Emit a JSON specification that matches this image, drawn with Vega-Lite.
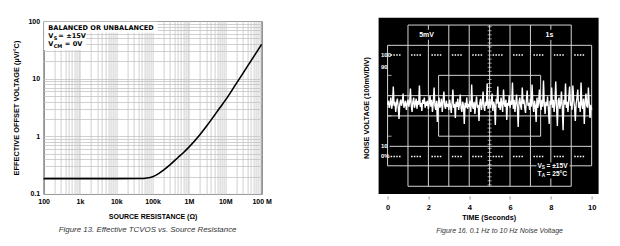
{
  "$schema": "https://vega.github.io/schema/vega-lite/v6.json",
  "background": "white",
  "padding": {"left": 11.6, "top": 16, "right": 0, "bottom": 0},
  "spacing": 90,
  "config": {"font": "Liberation Sans", "view": {"stroke": null}},
  "hconcat": [
    {
      "width": 218,
      "height": 173,
      "view": {"stroke": "#000", "strokeWidth": 1},
      "title": {"text": "Figure 13. Effective TCVOS vs. Source Resistance", "orient": "bottom", "anchor": "middle", "fontSize": 7.9, "fontStyle": "italic", "fontWeight": "normal", "color": "#333", "offset": 6, "dx": -5},
      "layer": [
        {
          "data": {"values": [
            {"r": 100, "e": 0.185}, {"r": 100000000, "e": 39.4}
          ]},
          "mark": {"type": "line", "color": "#000", "strokeWidth": 0},
          "encoding": {
            "x": {"field": "r", "type": "quantitative", "scale": {"type": "log", "domain": [100, 100000000], "nice": false},
              "axis": {
                "values": [100,200,300,400,500,600,700,800,900,1000,2000,3000,4000,5000,6000,7000,8000,9000,10000,20000,30000,40000,50000,60000,70000,80000,90000,100000,200000,300000,400000,500000,600000,700000,800000,900000,1000000,2000000,3000000,4000000,5000000,6000000,7000000,8000000,9000000,10000000,20000000,30000000,40000000,50000000,60000000,70000000,80000000,90000000,100000000],
                "labelExpr": "datum.value == 100 ? '100' : datum.value == 1000 ? '1k' : datum.value == 10000 ? '10k' : datum.value == 100000 ? '100k' : datum.value == 1000000 ? '1M' : datum.value == 10000000 ? '10M' : datum.value == 100000000 ? '100 M' : ''",
                "labelOverlap": false, "labelFlush": false, "ticks": false, "domain": false,
                "grid": true, "gridColor": "#c4c4c4", "gridWidth": 0.8,
                "labelFontSize": 7, "labelFontWeight": "bold", "labelColor": "#000", "labelPadding": 4,
                "title": "SOURCE RESISTANCE (Ω)", "titleFontSize": 7, "titleFontWeight": "bold", "titleColor": "#000", "titlePadding": 8
              }},
            "y": {"field": "e", "type": "quantitative", "scale": {"type": "log", "domain": [0.1, 100], "nice": false},
              "axis": {
                "values": [0.1,0.2,0.3,0.4,0.5,0.6,0.7,0.8,0.9,1,2,3,4,5,6,7,8,9,10,20,30,40,50,60,70,80,90,100],
                "labelExpr": "datum.value == 0.1 ? '0.1' : datum.value == 1 ? '1' : datum.value == 10 ? '10' : datum.value == 100 ? '100' : ''",
                "labelOverlap": false, "labelFlush": false, "ticks": false, "domain": false,
                "grid": true, "gridColor": "#c4c4c4", "gridWidth": 0.8,
                "labelFontSize": 7, "labelFontWeight": "bold", "labelColor": "#000", "labelPadding": 4,
                "title": "EFFECTIVE OFFSET VOLTAGE (µV/°C)", "titleFontSize": 7.4, "titleFontWeight": "bold", "titleColor": "#000", "titlePadding": 7.6
              }}
          }
        },
        {
          "data": {"values": [
            {"r": 103, "r2": 138700, "e": 62.7, "e2": 97},
            {"r": 103, "r2": 1490, "e": 31.5, "e2": 62.7}
          ]},
          "mark": {"type": "rect", "fill": "white"},
          "encoding": {
            "x": {"field": "r", "type": "quantitative", "scale": {"type": "log", "domain": [100, 100000000], "nice": false}},
            "x2": {"field": "r2"},
            "y": {"field": "e", "type": "quantitative", "scale": {"type": "log", "domain": [0.1, 100], "nice": false}},
            "y2": {"field": "e2"}
          }
        },
        {
          "data": {"values": [
            {"r": 100, "e": 0.185}, {"r": 1000, "e": 0.185}, {"r": 10000, "e": 0.185},
            {"r": 50000, "e": 0.186}, {"r": 70000, "e": 0.19}, {"r": 100000, "e": 0.2},
            {"r": 150000, "e": 0.228}, {"r": 200000, "e": 0.26}, {"r": 300000, "e": 0.32},
            {"r": 500000, "e": 0.43}, {"r": 700000, "e": 0.52}, {"r": 1000000, "e": 0.65},
            {"r": 2000000, "e": 1.07}, {"r": 3000000, "e": 1.48}, {"r": 5000000, "e": 2.3},
            {"r": 7000000, "e": 3.1}, {"r": 10000000, "e": 4.2}, {"r": 20000000, "e": 8.2},
            {"r": 30000000, "e": 12.1}, {"r": 50000000, "e": 20}, {"r": 100000000, "e": 39.4}
          ]},
          "mark": {"type": "line", "color": "#000", "strokeWidth": 1.6, "interpolate": "monotone"},
          "encoding": {
            "x": {"field": "r", "type": "quantitative", "scale": {"type": "log", "domain": [100, 100000000], "nice": false}},
            "y": {"field": "e", "type": "quantitative", "scale": {"type": "log", "domain": [0.1, 100], "nice": false}}
          }
        },
        {
          "data": {"values": [
            {"r": 135, "e": 74.7, "main": "BALANCED OR UNBALANCED", "sub": "", "rest": ""},
            {"r": 135, "e": 55, "main": "V", "sub": "S", "rest": "= ±15V"},
            {"r": 135, "e": 39.5, "main": "V", "sub": "CM", "rest": "= 0V"}
          ]},
          "encoding": {
            "x": {"field": "r", "type": "quantitative", "scale": {"type": "log", "domain": [100, 100000000], "nice": false}},
            "y": {"field": "e", "type": "quantitative", "scale": {"type": "log", "domain": [0.1, 100], "nice": false}}
          },
          "layer": [
            {
              "mark": {"type": "text", "align": "left", "baseline": "middle", "font": "DejaVu Sans", "fontSize": 6.6, "fontWeight": "bold", "color": "#000"},
              "encoding": {"text": {"field": "main"}}
            },
            {
              "mark": {"type": "text", "align": "left", "baseline": "middle", "font": "DejaVu Sans", "fontSize": 5, "fontWeight": "bold", "color": "#000", "dx": 5.3, "dy": 2},
              "encoding": {"text": {"field": "sub"}}
            },
            {
              "transform": [{"filter": "datum.sub == 'S'"}],
              "mark": {"type": "text", "align": "left", "baseline": "middle", "font": "DejaVu Sans", "fontSize": 6.6, "fontWeight": "bold", "color": "#000", "dx": 10},
              "encoding": {"text": {"field": "rest"}}
            },
            {
              "transform": [{"filter": "datum.sub == 'CM'"}],
              "mark": {"type": "text", "align": "left", "baseline": "middle", "font": "DejaVu Sans", "fontSize": 6.6, "fontWeight": "bold", "color": "#000", "dx": 16.5},
              "encoding": {"text": {"field": "rest"}}
            }
          ]
        }
      ]
    },
    {
      "width": 220,
      "height": 173,
      "title": {"text": "Figure 16. 0.1 Hz to 10 Hz Noise Voltage", "orient": "bottom", "anchor": "middle", "fontSize": 7, "fontStyle": "italic", "fontWeight": "normal", "color": "#333", "offset": 6, "dx": 11},
      "layer": [
        {
          "data": {"values": [{"x1": -0.44, "x2": 10.34, "y1": -1.85, "y2": 6.84}]},
          "mark": {"type": "rect", "fill": "#000"},
          "encoding": {
            "x": {"field": "x1", "type": "quantitative", "scale": {"domain": [-0.44, 10.34], "nice": false, "zero": false},
              "axis": {"values": [0, 2, 4, 6, 8, 10], "domain": false, "grid": false, "ticks": true, "tickColor": "#999", "tickSize": 3, "offset": 2,
                "labelFontSize": 7.5, "labelFontWeight": "bold", "labelColor": "#000", "labelPadding": 5, "labelFlush": false,
                "title": "TIME (Seconds)", "titleFontSize": 7.2, "titleFontWeight": "bold", "titleColor": "#000", "titlePadding": 2}},
            "x2": {"field": "x2"},
            "y": {"field": "y1", "type": "quantitative", "scale": {"domain": [-1.85, 6.68], "nice": false, "zero": false},
              "axis": {"labels": false, "ticks": false, "domain": false, "grid": false,
                "title": "NOISE VOLTAGE (100mV/DIV)", "titleFontSize": 7.2, "titleFontWeight": "bold", "titleColor": "#000", "titlePadding": 8}},
            "y2": {"field": "y2"}
          }
        },
        {
          "data": {"values": [
            {"x1": 1, "x2": 1, "y1": -1.47, "y2": 6.48}, {"x1": 2, "x2": 2, "y1": -1.47, "y2": 6.48},
            {"x1": 3, "x2": 3, "y1": -1.47, "y2": 6.48}, {"x1": 4, "x2": 4, "y1": -1.47, "y2": 6.48},
            {"x1": 5, "x2": 5, "y1": -1.47, "y2": 6.48}, {"x1": 6, "x2": 6, "y1": -1.47, "y2": 6.48},
            {"x1": 7, "x2": 7, "y1": -1.47, "y2": 6.48}, {"x1": 8, "x2": 8, "y1": -1.47, "y2": 6.48},
            {"x1": 9, "x2": 9, "y1": -1.47, "y2": 6.48},
            {"x1": 1, "x2": 9, "y1": 6.48, "y2": 6.48}, {"x1": 1, "x2": 9, "y1": -1.47, "y2": -1.47},
            {"x1": 0, "x2": 10, "y1": 5.48, "y2": 5.48}, {"x1": 0, "x2": 10, "y1": -0.46, "y2": -0.46},
            {"x1": 0, "x2": 0, "y1": -0.46, "y2": 5.48}, {"x1": 10, "x2": 10, "y1": -0.46, "y2": 5.48},
            {"x1": 2.5, "x2": 7.5, "y1": 4, "y2": 4}, {"x1": 2.5, "x2": 7.5, "y1": 1, "y2": 1},
            {"x1": 2.5, "x2": 2.5, "y1": 1, "y2": 4}, {"x1": 7.5, "x2": 7.5, "y1": 1, "y2": 4},
            {"x1": 0, "x2": 10, "y1": 3, "y2": 3}, {"x1": 0, "x2": 10, "y1": 2, "y2": 2},
            {"x1": 0.1, "x2": 10, "y1": 0.5, "y2": 0.5}
          ]},
          "mark": {"type": "rule", "color": "#d4d4d4", "strokeWidth": 1},
          "encoding": {
            "x": {"field": "x1", "type": "quantitative", "scale": {"domain": [-0.44, 10.34], "nice": false, "zero": false}},
            "x2": {"field": "x2"},
            "y": {"field": "y1", "type": "quantitative", "scale": {"domain": [-1.85, 6.68], "nice": false, "zero": false}},
            "y2": {"field": "y2"}
          }
        },
        {
          "data": {"values": [
            {"x1": 5, "y1": -1.4}, {"x1": 5, "y1": -1.2}, {"x1": 5, "y1": -1.0}, {"x1": 5, "y1": -0.8}, {"x1": 5, "y1": -0.6},
            {"x1": 5, "y1": -0.4}, {"x1": 5, "y1": -0.2}, {"x1": 5, "y1": 0}, {"x1": 5, "y1": 0.2}, {"x1": 5, "y1": 0.4},
            {"x1": 5, "y1": 0.6}, {"x1": 5, "y1": 0.8}, {"x1": 5, "y1": 1.0}, {"x1": 5, "y1": 1.2}, {"x1": 5, "y1": 1.4},
            {"x1": 5, "y1": 1.6}, {"x1": 5, "y1": 1.8}, {"x1": 5, "y1": 2.0}, {"x1": 5, "y1": 2.2}, {"x1": 5, "y1": 2.4},
            {"x1": 5, "y1": 2.6}, {"x1": 5, "y1": 2.8}, {"x1": 5, "y1": 3.0}, {"x1": 5, "y1": 3.2}, {"x1": 5, "y1": 3.4},
            {"x1": 5, "y1": 3.6}, {"x1": 5, "y1": 3.8}, {"x1": 5, "y1": 4.0}, {"x1": 5, "y1": 4.2}, {"x1": 5, "y1": 4.4},
            {"x1": 5, "y1": 4.6}, {"x1": 5, "y1": 4.8}, {"x1": 5, "y1": 5.0}, {"x1": 5, "y1": 5.2}, {"x1": 5, "y1": 5.4},
            {"x1": 5, "y1": 5.6}, {"x1": 5, "y1": 5.8}, {"x1": 5, "y1": 6.0}, {"x1": 5, "y1": 6.2}, {"x1": 5, "y1": 6.4},
            {"x1": 0.1, "y1": 4}, {"x1": 0.1, "y1": 3}, {"x1": 0.1, "y1": 2}, {"x1": 0.1, "y1": 1}
          ]},
          "mark": {"type": "tick", "orient": "horizontal", "size": 4, "thickness": 1, "color": "#e0e0e0"},
          "encoding": {
            "x": {"field": "x1", "type": "quantitative", "scale": {"domain": [-0.44, 10.34], "nice": false, "zero": false}},
            "y": {"field": "y1", "type": "quantitative", "scale": {"domain": [-1.85, 6.68], "nice": false, "zero": false}}
          }
        },
        {
          "data": {"values": [
            {"x1": 0.15, "x2": 10, "y1": 5, "y2": 5}, {"x1": 0.15, "x2": 10, "y1": 0, "y2": 0}
          ]},
          "mark": {"type": "rule", "color": "#ffffff", "strokeWidth": 1.4, "strokeDash": [1.5, 1.3, 1.5, 1.3, 1.5, 1.3, 1.5, 10.5]},
          "encoding": {
            "x": {"field": "x1", "type": "quantitative", "scale": {"domain": [-0.44, 10.34], "nice": false, "zero": false}},
            "x2": {"field": "x2"},
            "y": {"field": "y1", "type": "quantitative", "scale": {"domain": [-1.85, 6.68], "nice": false, "zero": false}},
            "y2": {"field": "y2"}
          }
        },
        {
          "data": {"values": [
            {"x1":0,"y1":2.55},{"x1":0.04,"y1":2.75},{"x1":0.08,"y1":2.4},{"x1":0.12,"y1":2.62},{"x1":0.16,"y1":2.9},{"x1":0.2,"y1":2.35},{"x1":0.24,"y1":2.6},{"x1":0.28,"y1":3.45},{"x1":0.32,"y1":2.5},{"x1":0.36,"y1":2.7},{"x1":0.4,"y1":2.2},{"x1":0.44,"y1":2.65},{"x1":0.48,"y1":2.85},{"x1":0.52,"y1":2.45},{"x1":0.56,"y1":1.85},{"x1":0.6,"y1":2.6},{"x1":0.64,"y1":2.8},{"x1":0.68,"y1":2.5},{"x1":0.72,"y1":2.7},{"x1":0.76,"y1":3.1},{"x1":0.8,"y1":2.4},{"x1":0.84,"y1":2.55},{"x1":0.88,"y1":2.75},{"x1":0.92,"y1":2.3},{"x1":0.96,"y1":2.6},
            {"x1":1,"y1":2.8},{"x1":1.04,"y1":2.45},{"x1":1.08,"y1":2.65},{"x1":1.12,"y1":3.35},{"x1":1.16,"y1":2.5},{"x1":1.2,"y1":2.2},{"x1":1.24,"y1":2.7},{"x1":1.28,"y1":2.9},{"x1":1.32,"y1":2.4},{"x1":1.36,"y1":2.6},{"x1":1.4,"y1":2.85},{"x1":1.44,"y1":2.35},{"x1":1.48,"y1":2.75},{"x1":1.52,"y1":2.55},{"x1":1.56,"y1":3.5},{"x1":1.6,"y1":2.45},{"x1":1.64,"y1":2.65},{"x1":1.68,"y1":2.25},{"x1":1.72,"y1":2.8},{"x1":1.76,"y1":2.6},{"x1":1.8,"y1":2.9},{"x1":1.84,"y1":2.4},{"x1":1.88,"y1":2.7},{"x1":1.92,"y1":2.5},{"x1":1.96,"y1":2.75},
            {"x1":2,"y1":2.35},{"x1":2.04,"y1":2.6},{"x1":2.08,"y1":3.0},{"x1":2.12,"y1":2.45},{"x1":2.16,"y1":2.8},{"x1":2.2,"y1":2.2},{"x1":2.24,"y1":2.65},{"x1":2.28,"y1":3.4},{"x1":2.32,"y1":2.5},{"x1":2.36,"y1":2.3},{"x1":2.4,"y1":2.75},{"x1":2.44,"y1":1.7},{"x1":2.48,"y1":2.6},{"x1":2.52,"y1":2.9},{"x1":2.56,"y1":2.4},{"x1":2.6,"y1":2.55},{"x1":2.64,"y1":2.85},{"x1":2.68,"y1":2.2},{"x1":2.72,"y1":2.7},{"x1":2.76,"y1":3.2},{"x1":2.8,"y1":2.5},{"x1":2.84,"y1":2.35},{"x1":2.88,"y1":2.75},{"x1":2.92,"y1":2.45},{"x1":2.96,"y1":2.6},
            {"x1":3,"y1":2.3},{"x1":3.04,"y1":2.8},{"x1":3.08,"y1":2.5},{"x1":3.12,"y1":2.15},{"x1":3.16,"y1":2.65},{"x1":3.2,"y1":3.3},{"x1":3.24,"y1":2.4},{"x1":3.28,"y1":2.6},{"x1":3.32,"y1":1.9},{"x1":3.36,"y1":2.7},{"x1":3.4,"y1":2.45},{"x1":3.44,"y1":2.85},{"x1":3.48,"y1":2.3},{"x1":3.52,"y1":2.55},{"x1":3.56,"y1":3.05},{"x1":3.6,"y1":2.4},{"x1":3.64,"y1":2.2},{"x1":3.68,"y1":2.7},{"x1":3.72,"y1":2.5},{"x1":3.76,"y1":1.6},{"x1":3.8,"y1":2.65},{"x1":3.84,"y1":2.4},{"x1":3.88,"y1":2.9},{"x1":3.92,"y1":2.35},{"x1":3.96,"y1":2.6},
            {"x1":4,"y1":2.45},{"x1":4.04,"y1":2.75},{"x1":4.08,"y1":2.2},{"x1":4.12,"y1":3.55},{"x1":4.16,"y1":2.5},{"x1":4.2,"y1":2.35},{"x1":4.24,"y1":2.7},{"x1":4.28,"y1":2.1},{"x1":4.32,"y1":2.6},{"x1":4.36,"y1":2.95},{"x1":4.4,"y1":2.4},{"x1":4.44,"y1":2.55},{"x1":4.48,"y1":1.75},{"x1":4.52,"y1":2.65},{"x1":4.56,"y1":2.85},{"x1":4.6,"y1":2.3},{"x1":4.64,"y1":2.6},{"x1":4.68,"y1":3.2},{"x1":4.72,"y1":2.45},{"x1":4.76,"y1":2.25},{"x1":4.8,"y1":2.7},{"x1":4.84,"y1":2.5},{"x1":4.88,"y1":3.6},{"x1":4.92,"y1":2.35},{"x1":4.96,"y1":2.6},
            {"x1":5,"y1":2.8},{"x1":5.04,"y1":2.4},{"x1":5.08,"y1":2.65},{"x1":5.12,"y1":3.1},{"x1":5.16,"y1":2.25},{"x1":5.2,"y1":2.7},{"x1":5.24,"y1":2.5},{"x1":5.28,"y1":1.55},{"x1":5.32,"y1":2.85},{"x1":5.36,"y1":2.6},{"x1":5.4,"y1":3.45},{"x1":5.44,"y1":2.4},{"x1":5.48,"y1":2.7},{"x1":5.52,"y1":2.3},{"x1":5.56,"y1":2.9},{"x1":5.6,"y1":2.55},{"x1":5.64,"y1":2.2},{"x1":5.68,"y1":3.3},{"x1":5.72,"y1":2.6},{"x1":5.76,"y1":2.45},{"x1":5.8,"y1":2.8},{"x1":5.84,"y1":1.8},{"x1":5.88,"y1":2.65},{"x1":5.92,"y1":2.5},{"x1":5.96,"y1":3.0},
            {"x1":6,"y1":2.4},{"x1":6.04,"y1":2.75},{"x1":6.08,"y1":2.55},{"x1":6.12,"y1":3.65},{"x1":6.16,"y1":2.35},{"x1":6.2,"y1":2.8},{"x1":6.24,"y1":2.2},{"x1":6.28,"y1":2.6},{"x1":6.32,"y1":3.05},{"x1":6.36,"y1":2.45},{"x1":6.4,"y1":1.45},{"x1":6.44,"y1":2.7},{"x1":6.48,"y1":2.9},{"x1":6.52,"y1":2.5},{"x1":6.56,"y1":2.3},{"x1":6.6,"y1":3.4},{"x1":6.64,"y1":2.6},{"x1":6.68,"y1":2.8},{"x1":6.72,"y1":2.4},{"x1":6.76,"y1":2.15},{"x1":6.8,"y1":2.75},{"x1":6.84,"y1":3.25},{"x1":6.88,"y1":2.5},{"x1":6.92,"y1":2.65},{"x1":6.96,"y1":2.3},
            {"x1":7,"y1":2.85},{"x1":7.04,"y1":2.45},{"x1":7.08,"y1":3.55},{"x1":7.12,"y1":2.6},{"x1":7.16,"y1":2.2},{"x1":7.2,"y1":2.75},{"x1":7.24,"y1":2.5},{"x1":7.28,"y1":1.7},{"x1":7.32,"y1":2.9},{"x1":7.36,"y1":2.4},{"x1":7.4,"y1":2.65},{"x1":7.44,"y1":3.3},{"x1":7.48,"y1":2.55},{"x1":7.52,"y1":2.3},{"x1":7.56,"y1":2.8},{"x1":7.6,"y1":2.45},{"x1":7.64,"y1":3.75},{"x1":7.68,"y1":2.6},{"x1":7.72,"y1":2.1},{"x1":7.76,"y1":2.7},{"x1":7.8,"y1":2.5},{"x1":7.84,"y1":2.95},{"x1":7.88,"y1":2.35},{"x1":7.92,"y1":1.6},{"x1":7.96,"y1":2.75},
            {"x1":8,"y1":2.55},{"x1":8.04,"y1":3.4},{"x1":8.08,"y1":2.4},{"x1":8.12,"y1":2.8},{"x1":8.16,"y1":2.2},{"x1":8.2,"y1":2.65},{"x1":8.24,"y1":3.7},{"x1":8.28,"y1":2.5},{"x1":8.32,"y1":1.5},{"x1":8.36,"y1":2.75},{"x1":8.4,"y1":2.9},{"x1":8.44,"y1":2.35},{"x1":8.48,"y1":2.6},{"x1":8.52,"y1":3.2},{"x1":8.56,"y1":2.45},{"x1":8.6,"y1":1.3},{"x1":8.64,"y1":2.8},{"x1":8.68,"y1":2.55},{"x1":8.72,"y1":3.6},{"x1":8.76,"y1":2.4},{"x1":8.8,"y1":2.7},{"x1":8.84,"y1":2.2},{"x1":8.88,"y1":2.9},{"x1":8.92,"y1":3.45},{"x1":8.96,"y1":2.5},
            {"x1":9,"y1":2.65},{"x1":9.04,"y1":2.3},{"x1":9.08,"y1":3.5},{"x1":9.12,"y1":2.8},{"x1":9.16,"y1":2.45},{"x1":9.2,"y1":1.75},{"x1":9.24,"y1":2.6},{"x1":9.28,"y1":2.9},{"x1":9.32,"y1":3.3},{"x1":9.36,"y1":2.4},{"x1":9.4,"y1":2.7},{"x1":9.44,"y1":2.2},{"x1":9.48,"y1":3.65},{"x1":9.52,"y1":2.55},{"x1":9.56,"y1":2.35},{"x1":9.6,"y1":2.85},{"x1":9.64,"y1":1.6},{"x1":9.68,"y1":2.7},{"x1":9.72,"y1":3.1},{"x1":9.76,"y1":2.5},{"x1":9.8,"y1":2.4},{"x1":9.84,"y1":3.4},{"x1":9.88,"y1":2.6},{"x1":9.92,"y1":1.9},{"x1":9.96,"y1":2.55},{"x1":10,"y1":2.3}
          ]},
          "mark": {"type": "line", "color": "#ffffff", "strokeWidth": 1.4},
          "encoding": {
            "x": {"field": "x1", "type": "quantitative", "scale": {"domain": [-0.44, 10.34], "nice": false, "zero": false}},
            "y": {"field": "y1", "type": "quantitative", "scale": {"domain": [-1.85, 6.68], "nice": false, "zero": false}}
          }
        },
        {
          "data": {"values": [
            {"x1": 1.45, "x2": 2.4, "y1": 5.75, "y2": 6.25},
            {"x1": 7.62, "x2": 8.25, "y1": 5.75, "y2": 6.25},
            {"x1": 7.3, "x2": 8.92, "y1": -1.08, "y2": -0.3}
          ]},
          "mark": {"type": "rect", "fill": "#000"},
          "encoding": {
            "x": {"field": "x1", "type": "quantitative", "scale": {"domain": [-0.44, 10.34], "nice": false, "zero": false}},
            "x2": {"field": "x2"},
            "y": {"field": "y1", "type": "quantitative", "scale": {"domain": [-1.85, 6.68], "nice": false, "zero": false}},
            "y2": {"field": "y2"}
          }
        },
        {
          "data": {"values": [
            {"x1": -0.32, "y1": 5, "s": "100"}, {"x1": -0.32, "y1": 4.43, "s": "90"},
            {"x1": -0.32, "y1": 0.52, "s": "10"}, {"x1": -0.32, "y1": 0, "s": "0%"}
          ]},
          "mark": {"type": "text", "align": "left", "baseline": "middle", "fontSize": 6, "fontWeight": "bold", "color": "#fff"},
          "encoding": {
            "x": {"field": "x1", "type": "quantitative", "scale": {"domain": [-0.44, 10.34], "nice": false, "zero": false}},
            "y": {"field": "y1", "type": "quantitative", "scale": {"domain": [-1.85, 6.68], "nice": false, "zero": false}},
            "text": {"field": "s"}
          }
        },
        {
          "data": {"values": [
            {"x1": 1.91, "y1": 6.0, "s": "5mV"}, {"x1": 7.93, "y1": 6.0, "s": "1s"}
          ]},
          "mark": {"type": "text", "align": "center", "baseline": "middle", "fontSize": 7, "fontWeight": "bold", "color": "#fff"},
          "encoding": {
            "x": {"field": "x1", "type": "quantitative", "scale": {"domain": [-0.44, 10.34], "nice": false, "zero": false}},
            "y": {"field": "y1", "type": "quantitative", "scale": {"domain": [-1.85, 6.68], "nice": false, "zero": false}},
            "text": {"field": "s"}
          }
        },
        {
          "data": {"values": [
            {"x1": 7.35, "y1": -0.47, "main": "V", "sub": "S", "rest": "= ±15V"},
            {"x1": 7.35, "y1": -0.88, "main": "T", "sub": "A", "rest": "= 25°C"}
          ]},
          "encoding": {
            "x": {"field": "x1", "type": "quantitative", "scale": {"domain": [-0.44, 10.34], "nice": false, "zero": false}},
            "y": {"field": "y1", "type": "quantitative", "scale": {"domain": [-1.85, 6.68], "nice": false, "zero": false}}
          },
          "layer": [
            {
              "mark": {"type": "text", "align": "left", "baseline": "middle", "fontSize": 6.6, "fontWeight": "bold", "color": "#fff"},
              "encoding": {"text": {"field": "main"}}
            },
            {
              "mark": {"type": "text", "align": "left", "baseline": "middle", "fontSize": 4.8, "fontWeight": "bold", "color": "#fff", "dx": 4.3, "dy": 1.5},
              "encoding": {"text": {"field": "sub"}}
            },
            {
              "mark": {"type": "text", "align": "left", "baseline": "middle", "fontSize": 6.6, "fontWeight": "bold", "color": "#fff", "dx": 9},
              "encoding": {"text": {"field": "rest"}}
            }
          ]
        }
      ]
    }
  ]
}
